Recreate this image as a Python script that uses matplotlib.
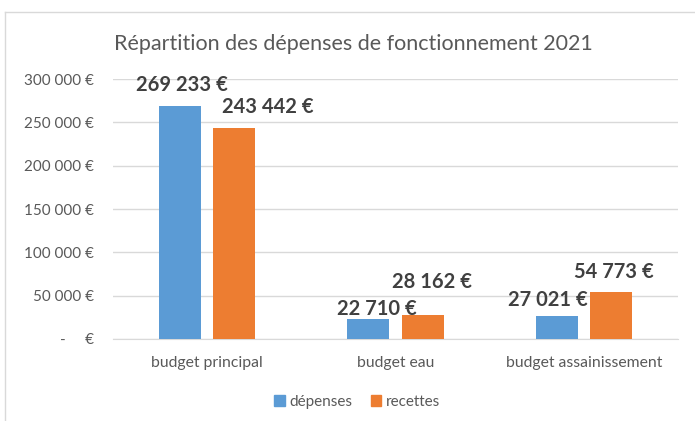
import numpy as np
import matplotlib
matplotlib.use('Agg')
import matplotlib.pyplot as plt
from matplotlib.lines import Line2D
from matplotlib.patches import Patch

plt.rcParams['font.family'] = ['Lato', 'DejaVu Sans']

# -- data
categories = ['budget principal', 'budget eau', 'budget assainissement']
depenses = [269233, 22710, 27021]
recettes = [243442, 28162, 54773]
yticks = [0, 50000, 100000, 150000, 200000, 250000, 300000]

blue = '#5B9BD5'
orange = '#ED7D31'
grey_txt = '#595959'
dark_txt = '#404040'


def euro(v):
    if v == 0:
        return '-     €'
    return f'{v:,.0f}'.replace(',', '\u202f') + '\u202f€'


fig = plt.figure(figsize=(6.95, 4.21), dpi=100)
ax = fig.add_axes([113/695, 1-339/421, (678-113)/695, (339-79)/421])

x = np.arange(len(categories))
w = 0.223
off = 0.144
b1 = ax.bar(x - off, depenses, w, color=blue, label='dépenses', zorder=3)
b2 = ax.bar(x + off, recettes, w, color=orange, label='recettes', zorder=3)

# data labels (hand moved in the original, offsets in pixels)
lab_off1 = [(2, 21), (8, 10), (-9, 16)]
lab_off2 = [(34, 21), (9, 33), (3, 20)]
for bars, vals, offs in [(b1, depenses, lab_off1), (b2, recettes, lab_off2)]:
    for r, v, (dx, dy) in zip(bars, vals, offs):
        ax.annotate(euro(v), (r.get_x() + r.get_width()/2, r.get_height()),
                    xytext=(dx, dy), textcoords='offset pixels',
                    ha='center', va='center', fontsize=14.5, fontweight='bold',
                    color=dark_txt, zorder=4)

ax.set_xlim(-0.5, 2.5)
ax.set_ylim(0, 300000)
ax.set_yticks(yticks)
ax.set_yticklabels([euro(v) for v in yticks])
ax.set_xticks(x)
ax.set_xticklabels(categories)
ax.tick_params(axis='y', length=0, pad=14, labelsize=11, labelcolor=grey_txt)
ax.tick_params(axis='x', length=0, pad=12, labelsize=11.3, labelcolor=grey_txt)
ax.grid(axis='y', color='#D9D9D9', lw=1, zorder=0)
for s in ['top', 'right', 'left']:
    ax.spines[s].set_visible(False)
ax.spines['bottom'].set_color('#D9D9D9')

fig.text(353/695, 1-44/421, 'Répartition des dépenses de fonctionnement 2021',
         ha='center', va='center', fontsize=15.5, color=grey_txt)

handles = [Patch(color=blue), Patch(color=orange)]
fig.legend(handles, ['dépenses', 'recettes'], loc='center',
           bbox_to_anchor=(357/695, 1-402/421), ncol=2, frameon=False,
           fontsize=11, labelcolor=grey_txt, handlelength=0.7, handleheight=0.7,
           handletextpad=0.3, columnspacing=1.2)

# chart frame (top and left edge visible)
fig.add_artist(Line2D([5/695, 5/695], [0, 1-12/421], color='#D9D9D9', lw=1))
fig.add_artist(Line2D([5/695, 1], [1-12/421, 1-12/421], color='#D9D9D9', lw=1))

fig.savefig('out.png', dpi=100)
